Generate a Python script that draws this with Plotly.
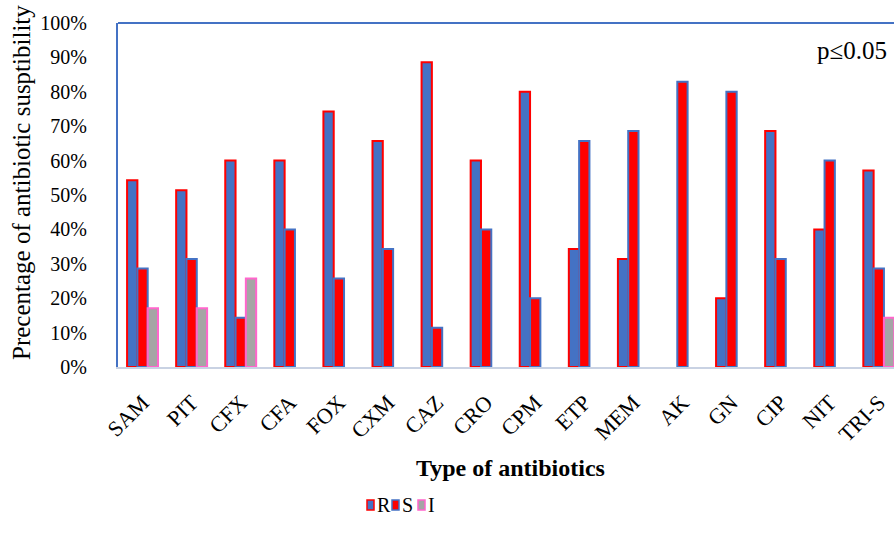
import plotly.graph_objects as go

categories = ["SAM", "PIT", "CFX", "CFA", "FOX", "CXM", "CAZ", "CRO", "CPM", "ETP",
              "MEM", "AK", "GN", "CIP", "NIT", "TRI-S"]
R = [54.3, 51.4, 60.0, 60.0, 74.3, 65.7, 88.6, 60.0, 80.0, 34.3, 31.4, None, 20.0, 68.6, 40.0, 57.1]
S = [28.6, 31.4, 14.3, 40.0, 25.7, 34.3, 11.4, 40.0, 20.0, 65.7, 68.6, 82.9, 80.0, 31.4, 60.0, 28.6]
I = [17.1, 17.1, 25.7, None, None, None, None, None, None, None, None, None, None, None, None, 14.3]
y_ticks = [0, 10, 20, 30, 40, 50, 60, 70, 80, 90, 100]
series_names = ["R", "S", "I"]

FONT = "Liberation Serif"
BLUE = "#4472C4"
RED = "#FF0000"
GRAY = "#A5A5A5"
PINK = "#FF66CC"
fills = [BLUE, RED, GRAY]
edges = [RED, BLUE, PINK]

W, H = 894, 544
L, T, B = 118, 23, 177
PW = W - L
PH = H - T - B

def px_x(px):
    return (px - L) / PW

def px_y(py):
    return (H - B - py) / PH

fig = go.Figure()
for name, vals, fc, ec in zip(series_names, [R, S, I], fills, edges):
    fig.add_trace(go.Bar(name=name, x=categories, y=vals, showlegend=False,
                         marker=dict(color=fc, line=dict(color=ec, width=2))))

fig.update_layout(
    width=W, height=H,
    margin=dict(l=L, r=0, t=T, b=B),
    plot_bgcolor="white", paper_bgcolor="white",
    barmode="group", bargap=0.37, bargroupgap=0.0,
    font=dict(family=FONT, color="black"),
    showlegend=False,
)
fig.update_xaxes(
    type="category", range=[-0.5, 15.31],
    tickangle=-45, tickfont=dict(family=FONT, size=22),
    showline=True, linecolor="#C9D2E3", linewidth=2,
    showgrid=False, ticks="", ticklabelstandoff=12,
)
fig.update_yaxes(
    range=[0, 100], tickvals=y_ticks, ticktext=[f"{v}%" for v in y_ticks],
    tickfont=dict(family=FONT, size=20),
    showline=True, linecolor=BLUE, linewidth=2,
    showgrid=False, ticks="", zeroline=False,
    ticklabelstandoff=25,
)
fig.add_shape(type="line", xref="paper", yref="paper", x0=0, x1=1, y0=1, y1=1,
              line=dict(color=BLUE, width=2))
fig.add_annotation(text="Precentage of antibiotic susptibility", xref="paper", yref="paper",
                   x=px_x(21), y=px_y(183), textangle=-90, showarrow=False,
                   xanchor="center", yanchor="middle",
                   font=dict(family=FONT, size=25))
fig.add_annotation(text="<b>Type of antibiotics</b>", xref="paper", yref="paper",
                   x=px_x(510), y=px_y(468), showarrow=False,
                   xanchor="center", yanchor="middle",
                   font=dict(family=FONT, size=24))
fig.add_annotation(text="p≤0.05", xref="paper", yref="paper",
                   x=px_x(889), y=px_y(50), xanchor="right", yanchor="middle", showarrow=False,
                   font=dict(family=FONT, size=25))

# custom compact legend
leg_sq_x = [367, 392, 418]
leg_y = 505
for name, fc, ec, sx in zip(series_names, fills, edges, leg_sq_x):
    fig.add_shape(type="rect", xref="paper", yref="paper",
                  x0=px_x(sx), x1=px_x(sx + 7), y0=px_y(leg_y + 5), y1=px_y(leg_y - 5),
                  fillcolor=fc, line=dict(color=ec, width=1.5))
    fig.add_annotation(text=name, xref="paper", yref="paper",
                       x=px_x(sx + 8), y=px_y(leg_y), xanchor="left", yanchor="middle",
                       showarrow=False, font=dict(family=FONT, size=20))

fig.write_html("out.html", config={"displayModeBar": False},
               post_script="document.body.style.margin='0';")
